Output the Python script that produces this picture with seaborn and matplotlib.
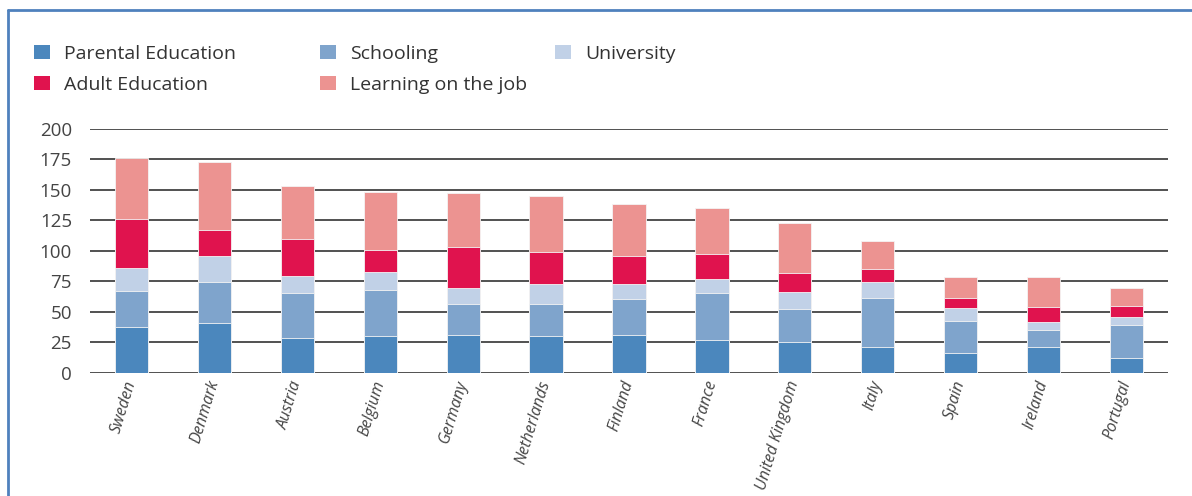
import seaborn as sns
import matplotlib.pyplot as plt
from matplotlib.patches import Patch
from matplotlib.lines import Line2D
import numpy as np

# Style
sns.set_style("white")
plt.rcParams['font.family'] = ['Open Sans', 'DejaVu Sans']

# Data
countries = ['Sweden', 'Denmark', 'Austria', 'Belgium', 'Germany', 'Netherlands',
             'Finland', 'France', 'United Kingdom', 'Italy', 'Spain', 'Ireland', 'Portugal']
parental = [37.5, 41.0, 28.0, 29.6, 30.4, 29.6, 31.2, 26.3, 24.7, 21.1, 15.9, 21.1, 11.5]
schooling = [29.5, 33.0, 37.3, 38.1, 26.0, 26.8, 28.8, 38.9, 27.4, 40.5, 26.8, 14.0, 27.7]
university = [19.0, 21.6, 13.7, 14.5, 13.0, 16.7, 13.1, 11.2, 13.9, 12.4, 10.2, 6.0, 6.0]
adult = [40.0, 21.7, 30.4, 18.4, 33.9, 25.8, 22.5, 20.9, 15.7, 11.2, 8.7, 13.1, 9.6]
on_the_job = [50.0, 56.0, 44.1, 47.6, 44.1, 46.1, 43.0, 38.0, 41.3, 22.4, 16.8, 24.2, 14.8]

series_names = ['Parental Education', 'Schooling', 'University',
                'Adult Education', 'Learning on the job']
series_values = [parental, schooling, university, adult, on_the_job]
colors = ['#4b87bd', '#7fa4cc', '#c1d1e7', '#e0134e', '#ec9391']

# Figure: 1192x496 px
fig = plt.figure(figsize=(11.92, 4.96), dpi=100)
ax = fig.add_axes([90 / 1192, 1 - 372.5 / 496, (1168 - 90) / 1192, 243.5 / 496])

# Horizontal gridlines behind the bars
ax.set_axisbelow(True)
ax.yaxis.grid(True, color='#222222', linewidth=1.1)
ax.xaxis.grid(False)

# Stacked bars: draw cumulative totals from the top segment downwards
cum = np.cumsum(np.array(series_values), axis=0)
for i in range(len(series_names) - 1, -1, -1):
    sns.barplot(x=countries, y=cum[i], order=countries, color=colors[i],
                saturation=1, width=0.4, edgecolor='#f4f4f4', linewidth=0.6,
                ax=ax, zorder=3)

ax.set_ylim(0, 200)
ax.set_xlim(-0.5, len(countries) - 0.5)
ax.set_yticks(np.arange(0, 201, 25))
ax.set_xlabel('')
ax.set_ylabel('')
for s in ax.spines.values():
    s.set_visible(False)

ax.tick_params(axis='y', length=0, pad=13, labelsize=13.5, labelcolor='#444444')
ax.tick_params(axis='x', length=0, pad=6)
ax.set_xticks(range(len(countries)))
ax.set_xticklabels(countries, rotation=73, ha='right', va='center',
                   rotation_mode='anchor', fontstyle='italic', fontsize=11.5,
                   color='#444444')

# Legend laid out in three columns like the reference
legend_cols = [(0, 3), (1, 4), (2,)]
col_x = [34, 320, 555]
for cx, idxs in zip(col_x, legend_cols):
    handles = [Patch(facecolor=colors[k], edgecolor='none') for k in idxs]
    labels = [series_names[k] for k in idxs]
    leg = fig.legend(handles, labels, loc='upper left',
                     bbox_to_anchor=(cx / 1192, 1 - 45 / 496),
                     frameon=False, fontsize=14, handlelength=0.8,
                     handleheight=0.75, handletextpad=0.75, labelspacing=0.65,
                     borderpad=0, borderaxespad=0)
    for t in leg.get_texts():
        t.set_color('#333333')

# Blue frame at left and top
fig.add_artist(Line2D([8 / 1192, 8 / 1192], [0, 1 - 10 / 496],
                      color='#4f81bd', linewidth=2, transform=fig.transFigure))
fig.add_artist(Line2D([8 / 1192, 1], [1 - 10 / 496, 1 - 10 / 496],
                      color='#4f81bd', linewidth=2, transform=fig.transFigure))

plt.savefig('out.png', dpi=100)
